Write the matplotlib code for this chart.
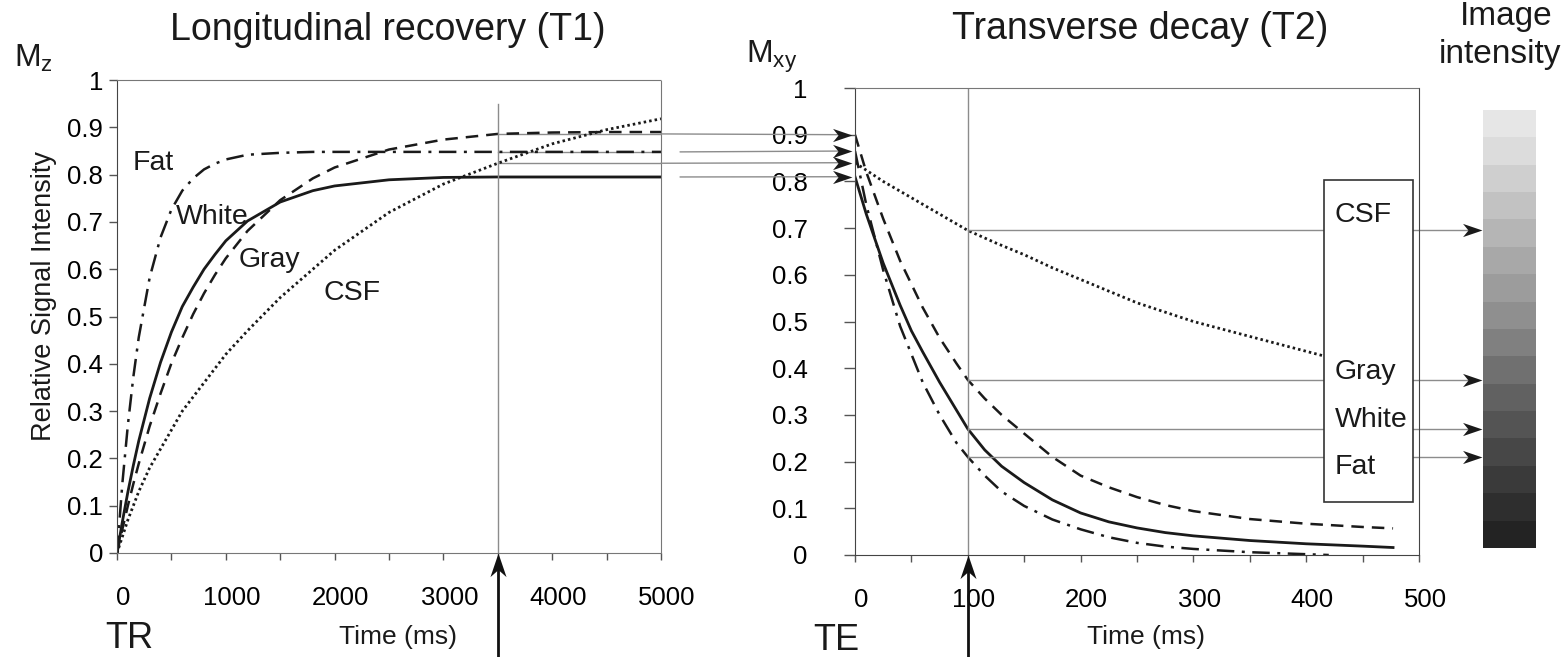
import numpy as np
import matplotlib
matplotlib.use("Agg")
import matplotlib.pyplot as plt
from matplotlib.patches import Rectangle
from matplotlib.path import Path
from matplotlib.transforms import ScaledTranslation

plt.rcParams['font.family'] = ['Liberation Sans', 'DejaVu Sans']
plt.rcParams['mathtext.fontset'] = 'custom'
plt.rcParams['mathtext.rm'] = 'Liberation Sans'
plt.rcParams['mathtext.it'] = 'Liberation Sans:italic'

# ---- longitudinal recovery (T1), time in ms ----
t1_time = [0, 50, 100, 150, 200, 300, 400, 500, 600, 700, 800, 900, 1000, 1200, 1500,
           1800, 2000, 2500, 3000, 3500, 4000, 4500, 5000]
t1_fat = [0, 0.149, 0.271, 0.372, 0.456, 0.582, 0.667, 0.726, 0.766, 0.792, 0.811, 0.823,
          0.832, 0.842, 0.846, 0.848, 0.848, 0.848, 0.848, 0.848, 0.848, 0.848, 0.848]
t1_white = [0, 0.067, 0.129, 0.185, 0.237, 0.327, 0.403, 0.467, 0.521, 0.562, 0.600, 0.631,
            0.660, 0.702, 0.742, 0.766, 0.776, 0.789, 0.794, 0.795, 0.795, 0.795, 0.795]
t1_gray = [0, 0.051, 0.100, 0.146, 0.189, 0.268, 0.337, 0.401, 0.455, 0.505, 0.549, 0.588,
           0.623, 0.681, 0.746, 0.792, 0.815, 0.853, 0.874, 0.886, 0.889, 0.890, 0.890]
t1_csf = [0, 0.035, 0.070, 0.100, 0.130, 0.180, 0.220, 0.260, 0.300, 0.330, 0.360, 0.390,
          0.420, 0.470, 0.540, 0.600, 0.640, 0.720, 0.780, 0.824, 0.865, 0.895, 0.918]

# ---- transverse decay (T2), time in ms ----
t2_time = [0, 10, 25, 40, 50, 60, 75, 90, 100, 115, 130, 150, 175, 200, 225, 250,
           275, 300, 350, 400, 450, 477]
t2_gray = [0.900, 0.820, 0.720, 0.630, 0.580, 0.530, 0.465, 0.410, 0.375, 0.335, 0.300,
           0.260, 0.210, 0.170, 0.145, 0.124, 0.107, 0.094, 0.077, 0.067, 0.060, 0.057]
t2_white = [0.810, 0.730, 0.625, 0.535, 0.480, 0.435, 0.370, 0.310, 0.270, 0.225, 0.190,
            0.155, 0.118, 0.090, 0.071, 0.058, 0.048, 0.041, 0.031, 0.024, 0.019, 0.016]
t2_fat_time = [0, 10, 25, 40, 50, 60, 75, 90, 100, 115, 130, 150, 175, 200, 225, 250,
               275, 300, 350, 420]
t2_fat = [0.865, 0.750, 0.610, 0.490, 0.430, 0.370, 0.300, 0.240, 0.210, 0.170, 0.136,
          0.105, 0.076, 0.055, 0.038, 0.026, 0.018, 0.013, 0.006, 0.0]
t2_csf_time = [0, 25, 50, 75, 100, 125, 150, 175, 200, 250, 300, 350, 416]
t2_csf = [0.840, 0.800, 0.765, 0.730, 0.695, 0.668, 0.643, 0.615, 0.590, 0.540, 0.500,
          0.468, 0.426]

TR = 3500
TE = 100

x1_ticks = list(range(0, 5001, 500))
x1_labels = ['0', '', '1000', '', '2000', '', '3000', '', '4000', '', '5000']
x2_ticks = list(range(0, 501, 50))
x2_labels = ['0', '', '100', '', '200', '', '300', '', '400', '', '500']
y_ticks = [0, 0.1, 0.2, 0.3, 0.4, 0.5, 0.6, 0.7, 0.8, 0.9, 1.0]
y_labels = ['0', '0.1', '0.2', '0.3', '0.4', '0.5', '0.6', '0.7', '0.8', '0.9', '1']

# grey steps of the image-intensity scale, top (bright) to bottom (dark)
intensity_steps = [0.90, 0.86, 0.81, 0.76, 0.71, 0.66, 0.61, 0.56, 0.50,
                   0.44, 0.38, 0.33, 0.28, 0.23, 0.18, 0.14]

INK = '#1a1a1a'
GUIDE = '#8c8c8c'
styles = {
    'Fat': dict(ls=(0, (7, 3, 1.2, 3)), lw=1.8),
    'White': dict(ls='-', lw=2.0),
    'Gray': dict(ls=(0, (5, 3.2)), lw=1.8),
    'CSF': dict(ls=(0, (0.9, 1.1)), lw=2.0),
}

# barbed arrow heads, tip at the marker origin
_codes = [Path.MOVETO, Path.LINETO, Path.LINETO, Path.LINETO, Path.CLOSEPOLY]
BARB_RIGHT = Path([(0, 0), (-1, 0.34), (-0.72, 0), (-1, -0.34), (0, 0)], _codes)
BARB_UP = Path([(0, 0), (0.34, -1), (0, -0.7), (-0.34, -1), (0, 0)], _codes)

W, H = 1564, 657
fig = plt.figure(figsize=(W / 100, H / 100), dpi=100)


def px_axes(left, top, right, bottom):
    return fig.add_axes([left / W, 1 - bottom / H, (right - left) / W, (bottom - top) / H])


ax1 = px_axes(117, 80, 661, 553)
ax2 = px_axes(855, 88, 1419, 555)
axc = px_axes(1483, 110, 1536, 548)

TICK_FS = 18.5
LABEL_FS = 20.5
shift = ScaledTranslation(6 / 100, 0, fig.dpi_scale_trans)

# ---- left panel ----
ax1.plot(t1_time, t1_fat, color=INK, **styles['Fat'])
ax1.plot(t1_time, t1_white, color=INK, **styles['White'])
ax1.plot(t1_time, t1_gray, color=INK, **styles['Gray'])
ax1.plot(t1_time, t1_csf, color=INK, **styles['CSF'])
ax1.set_xlim(0, 5000)
ax1.set_ylim(0, 1)
ax1.set_xticks(x1_ticks)
ax1.set_xticklabels(x1_labels)
ax1.set_yticks(y_ticks)
ax1.set_yticklabels(y_labels)
ax1.tick_params(axis='x', length=5, width=1, pad=19, labelsize=TICK_FS, color='#555')
ax1.tick_params(axis='y', length=6, width=1, pad=4, labelsize=TICK_FS, color='#555')
for lab in ax1.get_xticklabels():
    lab.set_transform(lab.get_transform() + shift)
ax1.spines['left'].set_color('#444')
for side in ('top', 'right', 'bottom'):
    ax1.spines[side].set_linestyle((0, (1, 1)))
    ax1.spines[side].set_color('#777')

ax1.plot([TR, TR], [0, 0.95], color=GUIDE, lw=1)
for name, x, y in [('Fat', 147, 0.825), ('White', 540, 0.71),
                   ('Gray', 1120, 0.62), ('CSF', 1900, 0.55)]:
    ax1.text(x, y, name, fontsize=LABEL_FS, ha='left', va='center', color=INK)

# ---- right panel ----
ax2.plot(t2_fat_time, t2_fat, color=INK, **styles['Fat'])
ax2.plot(t2_time, t2_white, color=INK, **styles['White'])
ax2.plot(t2_time, t2_gray, color=INK, **styles['Gray'])
ax2.plot(t2_csf_time, t2_csf, color=INK, **styles['CSF'])
ax2.set_xlim(0, 500)
ax2.set_ylim(0, 1)
ax2.set_xticks(x2_ticks)
ax2.set_xticklabels(x2_labels)
ax2.set_yticks(y_ticks)
ax2.set_yticklabels(y_labels)
ax2.tick_params(axis='x', length=5, width=1, pad=19, labelsize=TICK_FS, color='#555')
ax2.tick_params(axis='y', length=8, width=1, pad=26, labelsize=TICK_FS, color='#555')
for lab in ax2.get_xticklabels():
    lab.set_transform(lab.get_transform() + shift)
for side in ('left', 'bottom', 'right'):
    ax2.spines[side].set_color('#444')
ax2.spines['top'].set_linestyle((0, (1, 1)))
ax2.spines['top'].set_color('#777')
ax2.plot([TE, TE], [0, 1], color=GUIDE, lw=1)

# tissue box listing
box_x0, box_x1, box_y0, box_y1 = 415.8, 494.7, 0.1135, 0.803
ax2.add_patch(Rectangle((box_x0, box_y0), box_x1 - box_x0, box_y1 - box_y0,
                        facecolor='white', edgecolor='#333', lw=1.2, zorder=4))
for name, y in [('CSF', 0.728), ('Gray', 0.392), ('White', 0.289), ('Fat', 0.188)]:
    ax2.text(425.0, y, name, fontsize=LABEL_FS, ha='left', va='center', color=INK,
             zorder=5)

# ---- TR carry-over: signal at TR becomes starting transverse magnetisation ----
t1_series = {'Gray': t1_gray, 'Fat': t1_fat, 'CSF': t1_csf, 'White': t1_white}
t2_start = {'Gray': t2_gray[0], 'Fat': t2_fat[0], 'CSF': t2_csf[0], 'White': t2_white[0]}
gap_start = {'Gray': 5000, 'Fat': 5175, 'CSF': 5000, 'White': 5175}
tr_idx = t1_time.index(TR)
for name in ['Gray', 'Fat', 'CSF', 'White']:
    level = t1_series[name][tr_idx]
    ax1.plot([TR, 5000], [level, level], color=GUIDE, lw=1, zorder=1)
    ax2.annotate('', xy=(-10, t2_start[name]), xycoords='data',
                 xytext=(gap_start[name], level), textcoords=ax1.transData,
                 arrowprops=dict(arrowstyle='-', color=GUIDE, lw=1,
                                 shrinkA=0, shrinkB=0),
                 annotation_clip=False)
    ax2.plot([-3], [t2_start[name]], marker=BARB_RIGHT, markersize=28, color=INK,
             markeredgewidth=0, clip_on=False, zorder=6)

# ---- TE read-out: signal at TE mapped onto image intensity ----
t2_series = {'CSF': (t2_csf_time, t2_csf), 'Gray': (t2_time, t2_gray),
             'White': (t2_time, t2_white), 'Fat': (t2_fat_time, t2_fat)}
bar_left = 555.9
for name, (tt, vv) in t2_series.items():
    level = vv[tt.index(TE)]
    ax2.plot([TE, bar_left - 10], [level, level], color=GUIDE, lw=1,
             clip_on=False, zorder=2)
    ax2.plot([bar_left], [level], marker=BARB_RIGHT, markersize=28, color=INK,
             markeredgewidth=0, clip_on=False, zorder=6)

# TR / TE markers under the time axes
for ax, t in ((ax1, TR), (ax2, TE)):
    ax.plot([t, t], [-0.25, -0.03], color='#111', lw=2, clip_on=False, zorder=6)
    ax.plot([t], [0], marker=BARB_UP, markersize=34, color='#111',
            markeredgewidth=0, clip_on=False, zorder=6)

# ---- image intensity scale ----
axc.imshow(np.array(intensity_steps)[:, None], cmap='gray', vmin=0, vmax=1,
           aspect='auto', interpolation='nearest')
axc.set_axis_off()


# ---- figure text ----
def ftext(x, y, s, **kw):
    fig.text(x / W, 1 - y / H, s, color=INK, **kw)


ftext(388, 30, 'Longitudinal recovery (T1)', fontsize=27, ha='center', va='center')
ftext(1140, 29, 'Transverse decay (T2)', fontsize=27, ha='center', va='center')
ftext(1460, 17, 'Image', fontsize=24, ha='left', va='center')
ftext(1561, 55, 'intensity', fontsize=24, ha='right', va='center')
ftext(14, 58, r'M$_\mathregular{z}$', fontsize=23, ha='left', va='center')
ftext(746, 57, r'M$_\mathregular{xy}$', fontsize=23, ha='left', va='center')
ftext(44, 296, 'Relative Signal Intensity', fontsize=19.5, ha='center', va='center',
      rotation=90)
ftext(398, 637, 'Time (ms)', fontsize=19, ha='center', va='center')
ftext(1146, 637, 'Time (ms)', fontsize=19, ha='center', va='center')
ftext(105, 639, 'TR', fontsize=26, ha='left', va='center')
ftext(813, 640, 'TE', fontsize=26, ha='left', va='center')

fig.savefig('out.png', dpi=100, facecolor='white')
